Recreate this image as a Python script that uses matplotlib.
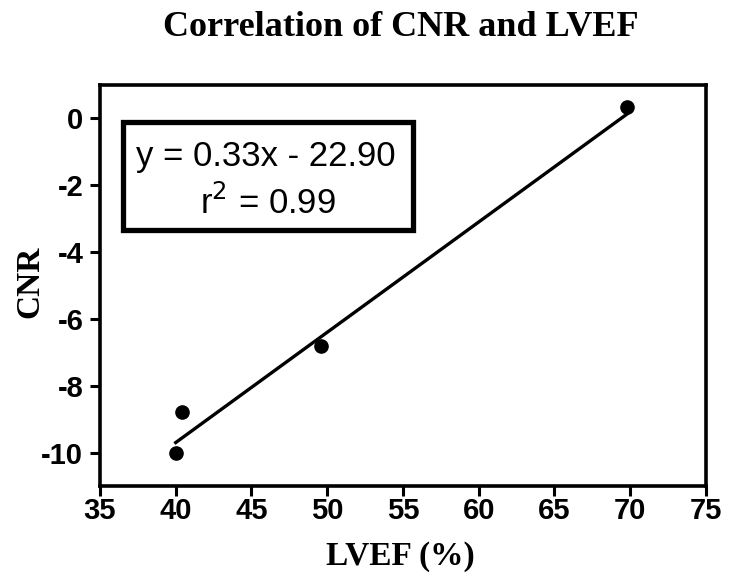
import matplotlib
matplotlib.use("Agg")
import matplotlib.pyplot as plt
from matplotlib.patches import Rectangle

lvef = [40.0, 40.4, 49.6, 69.8]
cnr = [-10.0, -8.8, -6.8, 0.35]
slope = 0.33
intercept = -22.90
r2 = 0.99
xticks = [35, 40, 45, 50, 55, 60, 65, 70, 75]
yticks = [0, -2, -4, -6, -8, -10]

fig = plt.figure(figsize=(7.35, 5.77), dpi=100)
ax = fig.add_axes([0.136, 0.1577, 0.9605 - 0.136, 0.8527 - 0.1577])

ax.plot(lvef, cnr, 'o', color='black', markersize=9.5, zorder=3)
xs = [min(lvef), max(lvef)]
ax.plot(xs, [slope * x + intercept for x in xs], color='black', lw=2.4)

ax.set_xlim(35, 75)
ax.set_ylim(-11, 1)
ax.set_xticks(xticks)
ax.set_yticks(yticks)
ax.set_xticklabels([str(t) for t in xticks], fontfamily='Liberation Sans', fontweight='bold', fontsize=21)
ax.set_yticklabels([str(t) for t in yticks], fontfamily='Liberation Sans', fontweight='bold', fontsize=21)
ax.tick_params(direction='out', length=7, width=2.2)
ax.tick_params(axis='x', pad=1)
ax.tick_params(axis='y', pad=5)
for s in ax.spines.values():
    s.set_linewidth(2.6)

fig.text(0.545, 1 - 28 / 577, 'Correlation of CNR and LVEF', ha='center', va='center',
         fontfamily='Liberation Serif', fontweight='bold', fontsize=26)
fig.text(400 / 735, 1 - 557 / 577, 'LVEF (%)', ha='center', va='center',
         fontfamily='Liberation Serif', fontweight='bold', fontsize=24)
fig.text(30 / 735, 1 - 282 / 577, 'CNR', ha='center', va='center', rotation=90,
         fontfamily='Liberation Serif', fontweight='bold', fontsize=24)

rect = Rectangle((123 / 735, 1 - 230 / 577), (413 - 123) / 735, (230 - 122) / 577,
                 transform=fig.transFigure, fill=False, lw=3.8, edgecolor='black')
fig.add_artist(rect)
fig.text(266 / 735, 1 - 157 / 577, f'y = {slope:.2f}x - {abs(intercept):.2f}', ha='center', va='center',
         fontfamily='Liberation Sans', fontsize=25)
fig.text(268 / 735, 1 - 203 / 577, f'r$^2$ = {r2:.2f}', ha='center', va='center',
         fontfamily='Liberation Sans', fontsize=25)

fig.savefig('out.png', dpi=100)
